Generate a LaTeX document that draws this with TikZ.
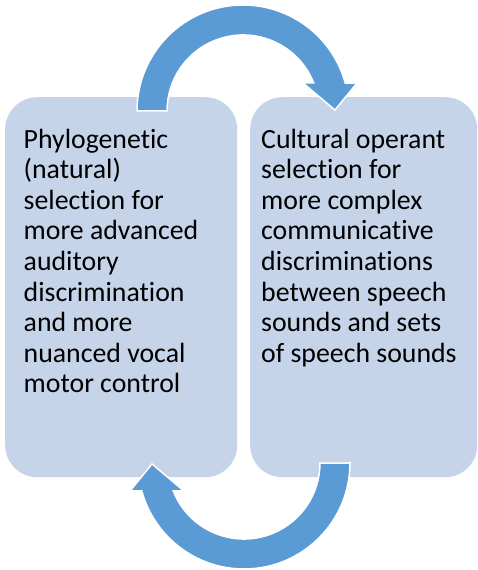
\documentclass[tikz,border=0pt]{standalone}
\usepackage{fontspec}
\setmainfont{Carlito}[Ligatures=NoCommon]
\usepackage{xcolor}
\usetikzlibrary{calc}

\definecolor{cycboxblue}{RGB}{198,212,234}
\definecolor{cycarrowblue}{RGB}{91,155,213}

\tikzset{
  cycbox/.style={fill=cycboxblue, draw=none, rounded corners=32pt, inner sep=0pt},
  cyctext/.style={align=left, inner sep=0pt, text=black,
    font=\fontsize{27.8}{30.6}\selectfont},
  cycarrow/.style={fill=cycarrowblue, draw=white, line width=1.5pt, line join=miter}
}

\begin{document}
\begin{tikzpicture}[x=1pt,y=1pt]
        \newcommand{\cyccx}{243}
        \newcommand{\cyccy}{459}
        \newcommand{\cycouter}{106}
        \newcommand{\cycinner}{76}
        \newcommand{\cycheady}{487}
        \useasboundingbox (0,0) rectangle (477,570);
        % the two boxes
        \node[cycbox, anchor=north west, minimum width=232, minimum height=380] (phylobox) at (5,473) {};
        \node[cycbox, anchor=north west, minimum width=227, minimum height=380] (cultbox) at (250,473) {};
        % base of a multi-line node is its last line
        \node[cyctext, anchor=base west] (phylotext) at (23.5,177) {Phylogenetic\\(natural)\\selection for\\more advanced\\auditory\\discrimination\\and more\\nuanced vocal\\motor control};
        \node[cyctext, anchor=base west] (culttext) at (261,207.6) {Cultural operant\\selection for\\more complex\\communicative\\discriminations\\between speech\\sounds and sets\\of speech sounds};
        % top arrow, then the same one turned round for the bottom
        \draw[cycarrow] (\cyccx-\cycouter,\cyccy) arc[start angle=180, end angle=15.3, radius=\cycouter]
            -- (357,\cycheady) -- (335,460) -- (303,\cycheady) -- (313.7,\cycheady)
            arc[start angle=21.6, end angle=180, radius=\cycinner] -- cycle;
        \begin{scope}[rotate around={180:(243.5,283)}]
            \draw[cycarrow] (\cyccx-\cycouter,\cyccy) arc[start angle=180, end angle=15.3, radius=\cycouter]
                -- (357,\cycheady) -- (335,460) -- (303,\cycheady) -- (313.7,\cycheady)
                arc[start angle=21.6, end angle=180, radius=\cycinner] -- cycle;
        \end{scope}
    \end{tikzpicture}
\end{document}
